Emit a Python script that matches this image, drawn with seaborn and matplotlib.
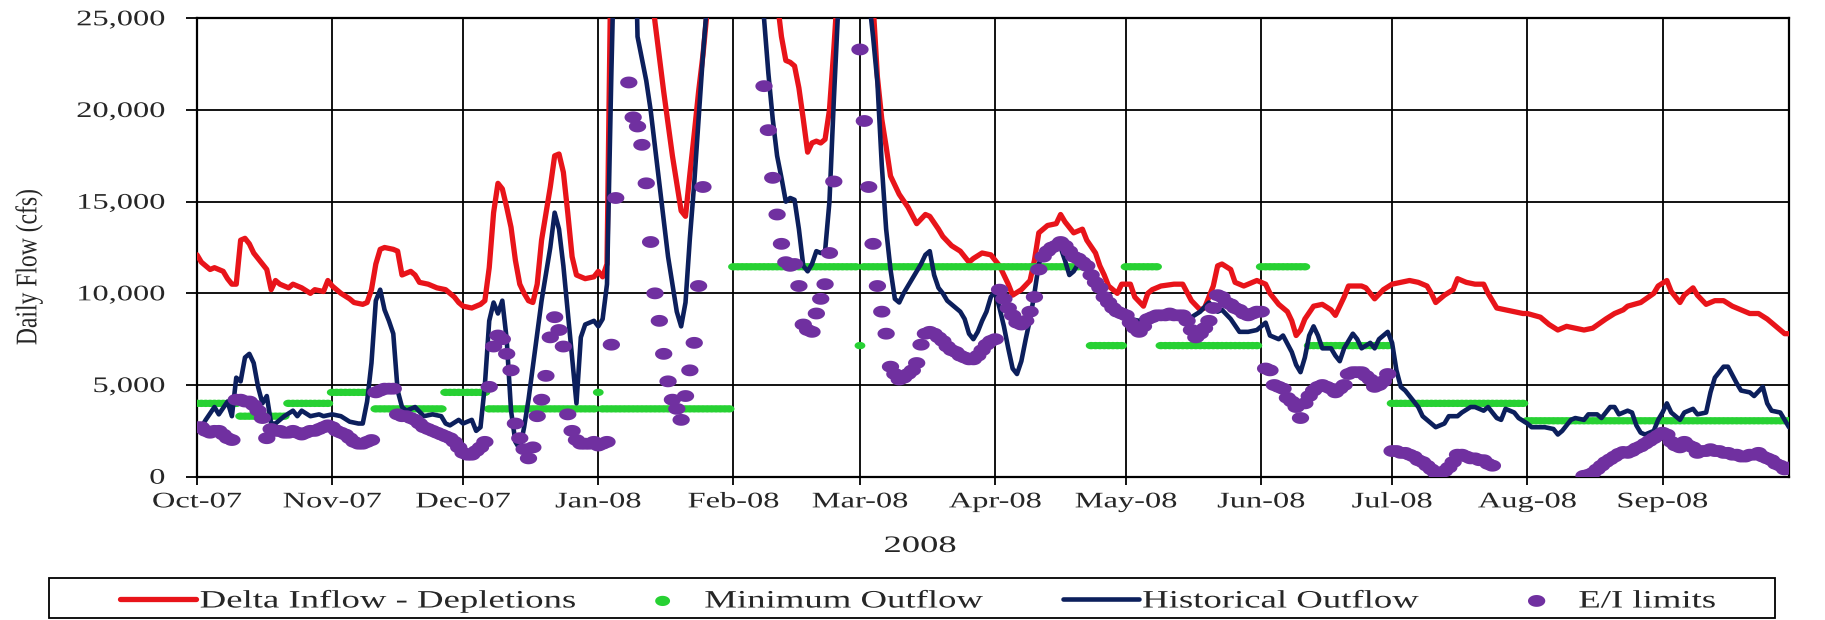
import numpy as np
import pandas as pd
import matplotlib
matplotlib.use("Agg")
import matplotlib.pyplot as plt
import matplotlib.dates as mdates
import seaborn as sns
from matplotlib.ticker import MultipleLocator, FuncFormatter
from matplotlib.patheffects import AbstractPathEffect
from matplotlib.transforms import Affine2D
from matplotlib.path import Path
from matplotlib.markers import MarkerStyle
from matplotlib.patches import Rectangle

# ---------------- data (days counted from 1 Oct 2007) ----------------
START = "2007-10-01"
END = "2008-09-30"

inflow_day = [0, 1, 3, 4, 6, 7, 8, 9, 10, 11, 12, 13, 15, 16, 17, 18, 19, 21, 22, 24, 26, 27, 29, 30,
              31, 33, 35, 36, 38, 39, 40, 41, 42, 43, 45, 46, 47, 48, 49, 50, 51, 53, 55, 57, 58, 59, 60,
              61, 63, 65, 66, 67, 68, 69, 70, 71, 72, 73, 74, 75, 76, 77, 78, 79, 81, 82, 83, 84, 85, 86,
              87, 89, 91, 92, 93, 94, 95, 96, 100, 104, 105, 107, 109, 110, 111, 112, 113, 114, 115, 116,
              117, 118, 125, 133, 134, 135, 136, 137, 138, 139, 140, 141, 142, 143, 144, 145, 146, 147,
              150, 154, 155, 156, 157, 158, 159, 161, 163, 165, 167, 168, 170, 171, 173, 175, 177, 178,
              180, 182, 184, 186, 187, 189, 191, 192, 193, 195, 197, 198, 199, 201, 202, 203, 204, 206,
              207, 208, 209, 211, 212, 214, 215, 217, 218, 219, 221, 224, 226, 228, 230, 231, 233, 234,
              235, 237, 238, 240, 241, 243, 245, 246, 248, 250, 251, 252, 253, 254, 256, 258, 260, 261,
              263, 264, 267, 268, 270, 272, 274, 276, 278, 280, 282, 283, 284, 286, 288, 289, 291, 293,
              295, 296, 298, 300, 302, 304, 305, 308, 310, 312, 314, 316, 318, 320, 323, 325, 327, 328,
              331, 334, 335, 337, 338, 340, 341, 343, 344, 346, 348, 350, 352, 354, 356, 358, 360, 361,
              363, 364, 365]
inflow_cfs = [12100, 11700, 11300, 11400, 11200, 10800, 10500, 10500, 12900, 13000, 12700, 12200, 11600,
              11300, 10200, 10700, 10500, 10300, 10500, 10300, 10000, 10200, 10100, 10700,
              10400, 10000, 9700, 9500, 9400, 9500, 10200, 11600, 12400, 12500, 12400, 12300, 11000, 11100,
              11200, 11000, 10600, 10500, 10300, 10200, 10000, 9800, 9500,
              9300, 9200, 9400, 9600, 11400, 14400, 16000, 15700, 14700, 13600, 11800, 10500, 10000, 9600,
              9500, 10500, 12900, 15800, 17500, 17600, 16600, 14400, 12000,
              11000, 10800, 10900, 11200, 10900, 11600, 30000, 36000, 42000, 27000, 24800, 21000, 17500,
              16000, 14500, 14200, 16500, 18700, 21000, 23000,
              25500, 31000, 40000, 26000, 24000, 22700, 22600, 22400, 21200, 19500, 17700, 18200, 18300,
              18200, 18400, 20000, 23300, 27000,
              38000, 30000, 25800, 21800, 19500, 18000, 16400, 15400, 14700, 13800, 14300, 14200, 13500,
              13100, 12600, 12300, 11700, 11900,
              12200, 12100, 11500, 10500, 9900, 10200, 10700, 11800, 13300, 13700, 13800, 14300, 13900,
              13300, 13400, 13500, 12900, 12200,
              11500, 11000, 10400, 10000, 10500, 10500, 9800, 9300, 10000, 10200, 10400, 10500, 10500,
              9600, 9100, 9200, 10400, 11500,
              11600, 11300, 10600, 10400, 10500, 10700, 10500, 10000, 9400, 9000, 8500, 7700, 8000, 8600,
              9300, 9400, 9100, 8800,
              9800, 10400, 10400, 10300, 9700, 10200, 10500, 10600, 10700, 10600, 10400, 10000, 9500,
              9900, 10200, 10800, 10600, 10500,
              10500, 10000, 9200, 9100, 9000, 8900, 8900, 8700, 8300, 8000, 8200, 8100, 8000, 8100, 8600,
              8900, 9100, 9300,
              9500, 10000, 10400, 10700, 10100, 9500, 9900, 10300, 9900, 9400, 9600, 9600, 9300, 9100,
              8900, 8900, 8600, 8400,
              8000, 7800, 7800]

outflow_day = [0, 1, 2, 4, 5, 7, 8, 9, 10, 11, 12, 13, 14, 15, 16, 17, 18, 20, 22, 23, 24, 26, 28, 29,
               31, 33, 35, 37, 38, 39, 40, 41, 42, 43, 44, 45, 46, 47, 48, 50, 52, 54, 56, 57, 58, 60,
               61, 63, 64, 65, 66, 67, 68, 69, 70, 71, 72, 73, 74, 75, 76, 77, 78, 79, 81, 82, 83, 84,
               85, 86, 87, 88, 89, 90, 91, 92, 93, 94, 95, 96, 100, 101, 102, 103, 104, 105, 106, 107,
               108, 109, 110, 111, 112, 113, 114, 115, 116, 117, 120, 129, 130, 131, 132, 133, 134, 135,
               136, 137, 138, 139, 140, 141, 142, 143, 144, 145, 146, 147, 150, 155, 156, 157, 158, 159,
               160, 161, 162, 163, 164, 165, 166, 167, 168, 169, 170, 171, 172, 173, 174, 175, 176, 177,
               178, 179, 180, 181, 182, 183, 184, 185, 186, 187, 188, 189, 190, 191, 192, 193, 194, 196,
               198, 199, 200, 201, 202, 203, 204, 205, 207, 208, 210, 212, 214, 216, 218, 220, 222, 224,
               226, 228, 230, 232, 234, 235, 237, 239, 241, 243, 245, 246, 248, 249, 251, 252, 253, 254,
               255, 256, 257, 258, 260, 261, 262, 263, 265, 266, 267, 269, 270, 271, 273, 274, 275, 276,
               277, 278, 280, 281, 283, 284, 286, 287, 289, 290, 292, 293, 295, 296, 298, 299, 300, 302,
               303, 305, 306, 308, 309, 311, 312, 313, 315, 316, 318, 319, 321, 322, 324, 325, 326, 328,
               329, 330, 331, 332, 334, 335, 336, 337, 338, 340, 341, 343, 344, 346, 347, 348, 350, 351,
               353, 354, 356, 357, 359, 360, 361, 363, 364, 365]
outflow_cfs = [2600, 2700, 3100, 3800, 3400, 4100, 3300, 5400, 5200, 6500, 6700, 6200, 4900, 4000, 4400,
               2900, 2900, 3300, 3600, 3300, 3600, 3300, 3400, 3300,
               3400, 3300, 3000, 2900, 2900, 4100, 6200, 9600, 10200, 9100, 8500, 7800, 4700, 3800, 3600,
               3800, 3300, 3400, 3300, 2900, 2800, 3100,
               2900, 3100, 2500, 2700, 5000, 8500, 9500, 8900, 9600, 7500, 3600, 1900, 1500, 2700, 4200,
               6000, 7800, 9600, 12500, 14400, 13500, 11500,
               9000, 6500, 4000, 7600, 8300, 8400, 8500, 8200, 8600, 10500, 22000, 32000, 35000, 24000,
               22800, 21600, 20000, 18000, 16000, 14000,
               12000, 10500, 9000, 8200, 9500, 13000, 16000, 19500, 23000, 26000, 35000, 28000, 25000,
               22000, 19500, 17500, 16300, 15000,
               15200, 15100, 13500, 11500, 11200, 11600, 12300, 12200, 12300, 15000, 20500, 25500, 35000,
               24000, 21500, 17000, 13500, 11300,
               9700, 9500, 10000, 10400, 10800, 11200, 11600, 12100, 12300, 11000, 10300, 10000, 9600,
               9400, 9200, 9000, 8600, 7800,
               7500, 7900, 8500, 9000, 9800, 10100, 9200, 8200, 7000, 5900, 5600, 6300, 7500, 8600, 10000,
               11600, 12200, 12700,
               12500, 11800, 11000, 11200, 11600, 11800, 11600, 11000, 10200, 10000, 9500, 9000, 8600,
               8500, 8800, 8600, 8700, 8800,
               8500, 8700, 9000, 9500, 9000, 9100, 8600, 7900, 7900, 8000, 8400, 7700, 7500, 7700, 6800,
               6100, 5700, 6500,
               7700, 8200, 7700, 7000, 7000, 6600, 6300, 7000, 7800, 7500, 7000, 7300, 7000, 7500, 7900,
               7300, 5800, 4900,
               4700, 4400, 3800, 3300, 2900, 2700, 2900, 3300, 3300, 3500, 3800, 3800, 3600, 3800, 3200,
               3100, 3700, 3500,
               3200, 2900, 2700, 2700, 2700, 2600, 2300, 2500, 3100, 3200, 3100, 3400, 3400, 3200, 3800,
               3800, 3400, 3600,
               3500, 2800, 2400, 2300, 2500, 3100, 3500, 4000, 3500, 3100, 3500, 3700, 3400, 3500, 4600,
               5400, 6000, 6000,
               5100, 4700, 4600, 4400, 4900, 4000, 3600, 3500, 3100, 2700]

# Minimum outflow requirement: constant daily value over each period
min_start = [0, 10, 21, 31, 41, 57, 67, 92, 93, 123, 152, 153, 205, 213, 221, 244, 255, 274, 305]
min_end = [9, 20, 30, 40, 56, 66, 91, 92, 122, 151, 152, 204, 212, 220, 243, 254, 273, 304, 365]
min_cfs = [4000, 3300, 4000, 4600, 3700, 4600, 3700, 4600, 3700, 11450, 7150, 11450, 7150, 11450,
           7150, 11450, 7150, 4000, 3050]

# E/I limits, one value per day of each month (None = off the chart)
ei_oct = [2700, 2700, 2500, 2400, 2500, 2500, 2300, 2100, 2000, 4200, 4200, 4100, 4100, 3900, 3600, 3200,
          2100, 2600, 2500, 2500, 2400, 2400, 2500, 2400, 2300, 2400, 2500, 2500, 2600, 2700, 2800]
ei_nov = [2700, 2500, 2400, 2300, 2100, 1900, 1800, 1800, 1900, 2000, 4600, 4700, 4800, 4800, 4800, 3400,
          3300, 3300, 3200, 3100, 2900, 2700, 2600, 2500, 2400, 2300, 2200, 2100, 1900, 1600]
ei_dec = [1300, 1200, 1200, 1400, 1600, 1900, 4900, 7100, 7700, 7500, 6700, 5800, 2900, 2100, 1500, 1000,
          1600, 3300, 4200, 5500, 7600, 8700, 8000, 7100, 3400, 2500, 2000, 1800, 1800, 1800, 1900]
ei_jan = [1700, 1800, 1900, 7200, 15200, None, None, 21500, 19600, 19100, 18100, 16000, 12800, 10000,
          8500, 6700, 5200, 4200, 3700, 3100, 4400, 5800, 7300, 10400, 15800, None, None, None, None,
          None, None]
ei_feb = [None, None, None, None, None, None, None, 21300, 18900, 16300, 14300, 12700, 11700, 11500,
          11600, 10400, 8300, 8000, 7900, 8900, 9700, 10500, 12200, 16100, None, None, None, None, None]
ei_mar = [23300, 19400, 15800, 12700, 10400, 9000, 7800, 6000, 5600, 5300, 5400, 5600, 5800, 6200, 7200,
          7800, 7900, 7800, 7600, 7400, 7100, 6900, 6800, 6600, 6500, 6400, 6400, 6600, 6900, 7200, 7400]
ei_apr = [7500, 10200, 9700, 9200, 8800, 8400, 8300, 8500, 9000, 9800, 11300, 12000, 12300, 12500, 12600,
          12800, 12600, 12300, 12000, 11900, 11700, 11500, 11000, 10600, 10300, 9800, 9500, 9200, 9000,
          8900]
ei_may = [8800, 8400, 8100, 7900, 8200, 8600, 8700, 8800, 8800, 8800, 8900, 8800, 8800, 8800, 8500, 8000,
          7600, 7800, 8100, 8500, 9200, 9900, 9800, 9500, 9400, 9200, 9100, 8900, 8800, 8900, 9000]
ei_jun = [9000, 5900, 5800, 5000, 4900, 4800, 4300, 4100, 3800, 3200, 4000, 4400, 4700, 4900, 5000, 4900,
          4800, 4600, 4800, 5000, 5600, 5700, 5700, 5700, 5500, 5300, 4900, 5000, 5200, 5600]
ei_jul = [1400, 1400, 1300, 1300, 1200, 1100, 900, 800, 600, 400, 200, 200, 300, 500, 800, 1200, 1200,
          1100, 1000, 1000, 900, 900, 700, 600, None, None, None, None, None, None, None]
ei_aug = [None] * 13 + [50, 100, 200, 400, 600, 800, 950, 1100, 1250, 1350, 1300, 1400, 1550, 1650,
                        1800, 1950, 2100, 2250]
ei_sep = [2400, 2300, 1900, 1700, 1600, 1900, 1700, 1600, 1300, 1400, 1400, 1500, 1400, 1400, 1300, 1300,
          1200, 1200, 1100, 1100, 1200, 1200, 1300, 1100, 1000, 900, 700, 600, 400, 500]

labels = ["Delta Inflow - Depletions", "Minimum Outflow", "Historical Outflow", "E/I limits"]
month_fmt = "%b-%y"

RED = "#E8141A"
GREEN = "#27D133"
NAVY = "#0C1F5C"
PURPLE = "#7030A0"
TXT = "#262626"

# ---------------- helpers ----------------
class Stretch(AbstractPathEffect):
    """Draw text path widened along its baseline (the reference is horizontally stretched)."""
    def __init__(self, sx=1.0, sy=1.0, anchor="center"):
        super().__init__()
        self.sx, self.sy, self.anchor = sx, sy, anchor

    def draw_path(self, renderer, gc, tpath, affine, rgbFace=None):
        ext = tpath.get_extents()
        if self.anchor == "left":
            cx = ext.x0
        elif self.anchor == "right":
            cx = ext.x1
        else:
            cx = 0.5 * (ext.x0 + ext.x1)
        cy = 0.5 * (ext.y0 + ext.y1)
        pre = Affine2D().translate(-cx, -cy).scale(self.sx, self.sy).translate(cx, cy)
        renderer.draw_path(gc, tpath, pre + affine, rgbFace)


def ellipse(aspect):
    t = np.linspace(0, 2 * np.pi, 49)
    return MarkerStyle(Path(np.column_stack([np.cos(t), np.sin(t) / aspect]), closed=True))


base = pd.Timestamp(START)
to_date = lambda d: base + pd.to_timedelta(np.asarray(d), unit="D")

inflow = pd.DataFrame({"date": to_date(inflow_day), "cfs": inflow_cfs})
outflow = pd.DataFrame({"date": to_date(outflow_day), "cfs": outflow_cfs})
mdays = np.concatenate([np.arange(s, e + 1) for s, e in zip(min_start, min_end)])
mvals = np.concatenate([np.full(e - s + 1, v) for s, e, v in zip(min_start, min_end, min_cfs)])
minimum = pd.DataFrame({"date": to_date(mdays), "cfs": mvals})
ei_vals = np.array(ei_oct + ei_nov + ei_dec + ei_jan + ei_feb + ei_mar + ei_apr + ei_may + ei_jun +
                   ei_jul + ei_aug + ei_sep, dtype=float)
ei = pd.DataFrame({"date": pd.date_range(START, END, freq="D"), "cfs": ei_vals}).dropna()

# ---------------- figure ----------------
sns.set_theme(style="white")
plt.rcParams["font.family"] = ["Liberation Serif", "DejaVu Serif"]

W, H = 1825, 620
fig = plt.figure(figsize=(W / 100, H / 100), dpi=100)
L, R, T, B = 197, 1789, 18.3, 476.7
ax = fig.add_axes([L / W, (H - B) / H, (R - L) / W, (B - T) / H])

sns.lineplot(data=inflow, x="date", y="cfs", ax=ax, color=RED, lw=3.8, zorder=3)
h_red = ax.lines[-1]
sns.scatterplot(data=minimum, x="date", y="cfs", ax=ax, color=GREEN, marker=ellipse(1.46), s=60,
                linewidth=0, edgecolor="none", zorder=4)
h_green = ax.collections[-1]
sns.lineplot(data=outflow, x="date", y="cfs", ax=ax, color=NAVY, lw=3.3, zorder=5)
h_navy = ax.lines[-1]
sns.scatterplot(data=ei, x="date", y="cfs", ax=ax, color=PURPLE, marker=ellipse(1.46), s=155,
                linewidth=0, edgecolor="none", zorder=6)
h_purple = ax.collections[-1]

ax.set_xlim(base, pd.Timestamp(END))
ax.set_ylim(0, 25000)
ax.xaxis.set_major_locator(mdates.MonthLocator())
ax.xaxis.set_major_formatter(mdates.DateFormatter(month_fmt))
ax.yaxis.set_major_locator(MultipleLocator(5000))
ax.yaxis.set_major_formatter(FuncFormatter(lambda v, p: f"{int(round(v)):,}"))
ax.grid(True, color="black", lw=1.3)
ax.set_axisbelow(True)
for sp in ax.spines.values():
    sp.set_visible(True)
    sp.set_color("black")
    sp.set_linewidth(1.6)
ax.tick_params(axis="y", left=True, direction="out", length=8, width=1.3, color="black",
               pad=15, labelsize=16, labelcolor=TXT)
ax.tick_params(axis="x", bottom=True, direction="out", length=6, width=1.3, color="black",
               pad=6, labelsize=16, labelcolor=TXT)

ax.set_xlabel("2008", fontsize=17, color=TXT)
ax.xaxis.set_label_coords((920 - L) / (R - L), (B - 536) / (B - T))
ax.set_ylabel("Daily Flow (cfs)", fontsize=17, color=TXT)
ax.yaxis.set_label_coords((39.8 - L) / (R - L), (B - 267) / (B - T))

leg = ax.legend([h_red, h_green, h_navy, h_purple], labels, loc="center left",
                bbox_to_anchor=(120 / W, (H - 601) / H), bbox_transform=fig.transFigure,
                ncol=4, frameon=False, fontsize=18, handlelength=3.04, handletextpad=0.16,
                columnspacing=6.72, borderpad=0, borderaxespad=0)
for t in leg.get_texts():
    t.set_color(TXT)
leg.legend_handles[1].set_sizes([115])
leg.legend_handles[3].set_sizes([155])

fig.add_artist(Rectangle((49 / W, 2 / H), 1726 / W, 40 / H, transform=fig.transFigure,
                         fill=False, ec="black", lw=1.3))

fig.canvas.draw()
for t in ax.get_xticklabels():
    t.set_path_effects([Stretch(1.46, anchor="center")])
for t in ax.get_yticklabels():
    t.set_path_effects([Stretch(1.46, anchor="right")])
ax.xaxis.label.set_path_effects([Stretch(1.55, anchor="center")])
ax.yaxis.label.set_path_effects([Stretch(1.0, 1.27)])
for t in leg.get_texts():
    t.set_path_effects([Stretch(1.47, anchor="left")])

fig.savefig("out.png", dpi=100)
